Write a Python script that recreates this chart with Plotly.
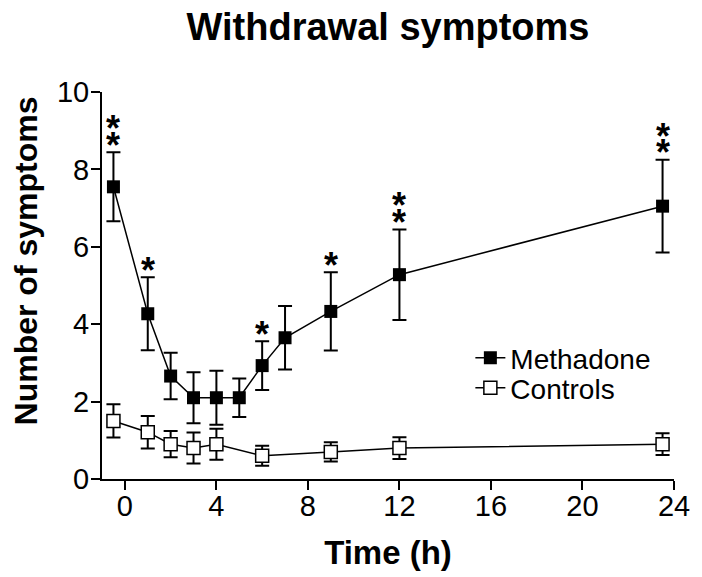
import plotly.graph_objects as go

# ---- data ----
time_meth = [-0.5, 1, 2, 3, 4, 5, 6, 7, 9, 12, 23.5]
mean_meth = [7.55, 4.27, 2.66, 2.10, 2.10, 2.10, 2.93, 3.65, 4.33, 5.28, 7.05]
err_meth = [0.89, 0.94, 0.60, 0.66, 0.70, 0.50, 0.63, 0.82, 1.01, 1.17, 1.20]
stars_meth = [2, 1, 0, 0, 0, 0, 1, 0, 1, 2, 2]

time_ctrl = [-0.5, 1, 2, 3, 4, 6, 9, 12, 23.5]
mean_ctrl = [1.50, 1.21, 0.90, 0.80, 0.90, 0.60, 0.70, 0.80, 0.90]
err_ctrl = [0.43, 0.42, 0.34, 0.40, 0.40, 0.26, 0.25, 0.28, 0.28]

x_ticks = [0, 4, 8, 12, 16, 20, 24]
y_ticks = [0, 2, 4, 6, 8, 10]

FONT = "Liberation Sans, Arial, sans-serif"

fig = go.Figure()
fig.add_trace(go.Scatter(
    x=time_meth, y=mean_meth, name="Methadone", mode="lines+markers",
    line=dict(color="black", width=1.5),
    marker=dict(symbol="square", size=13, color="black"),
    error_y=dict(type="data", array=err_meth, visible=True, color="black", thickness=2, width=7),
    legend="legend",
))
fig.add_trace(go.Scatter(
    x=time_ctrl, y=mean_ctrl, name="Controls", mode="lines+markers",
    line=dict(color="black", width=1.5),
    marker=dict(symbol="square", size=13, color="white", line=dict(color="black", width=1.5)),
    error_y=dict(type="data", array=err_ctrl, visible=True, color="black", thickness=2, width=7),
    legend="legend2",
))

annotations = []
for x, m, e, n in zip(time_meth, mean_meth, err_meth, stars_meth):
    for k in range(n):
        annotations.append(dict(
            x=x, y=m + e, xref="x", yref="y", text="<b>*</b>", showarrow=False,
            font=dict(family=FONT, size=36, color="black"),
            yanchor="middle", xanchor="center", yshift=7 + 16.7 * k,
        ))

annotations.append(dict(
    x=-0.1323, y=0.563, xref="paper", yref="paper", text="<b>Number of symptoms</b>",
    textangle=-90, showarrow=False, font=dict(family=FONT, size=32, color="black"),
    xanchor="center", yanchor="middle",
))

leg_common = dict(xanchor="left", yanchor="middle", bgcolor="rgba(0,0,0,0)",
                  font=dict(family=FONT, size=28, color="black"))

fig.update_layout(
    width=702, height=577,
    margin=dict(l=102, r=18, t=92, b=98),
    paper_bgcolor="white", plot_bgcolor="white",
    font=dict(family=FONT, color="black"),
    title=dict(text="<b>Withdrawal symptoms</b>", x=0.5, xref="paper",
               y=1 - 27 / 577, yref="container", yanchor="middle",
               font=dict(family=FONT, size=38, color="black")),
    xaxis=dict(range=[-1, 24], tickvals=x_ticks, ticks="outside", ticklen=9, tickwidth=2,
               showline=True, linewidth=2, linecolor="black", tickcolor="black",
               showgrid=False, zeroline=False, tickfont=dict(size=29), ticklabelstandoff=-9,
               title=dict(text="<b>Time (h)</b>", font=dict(size=33), standoff=20)),
    yaxis=dict(range=[0, 10], tickvals=y_ticks, ticks="outside", ticklen=9, tickwidth=2,
               showline=True, linewidth=2, linecolor="black", tickcolor="black",
               showgrid=False, zeroline=False, tickfont=dict(size=29), ticklabelstandoff=-4),
    legend=dict(x=0.644, y=0.3127, **leg_common),
    legend2=dict(x=0.644, y=0.235, **leg_common),
    annotations=annotations,
    showlegend=True,
)

fig.write_html("out.html")
